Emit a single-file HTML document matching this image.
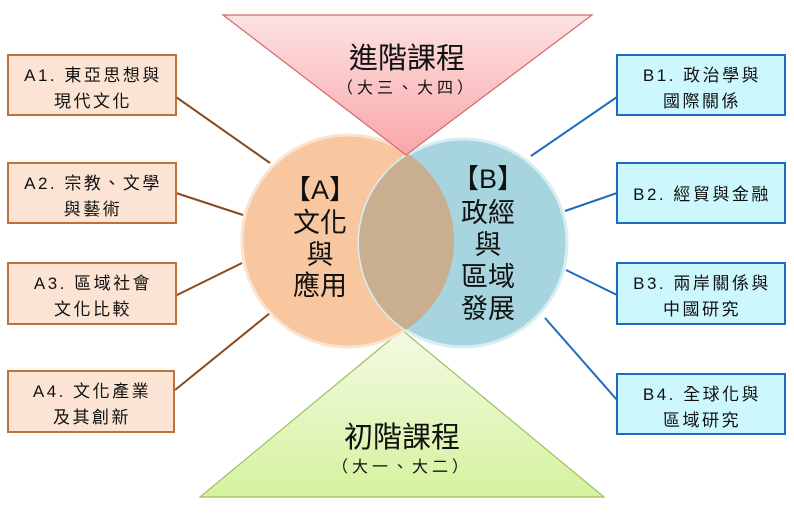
<!DOCTYPE html>
<html><head><meta charset="utf-8"><style>
body{margin:0;background:#fff;}
svg text{font-family:"Liberation Sans","Noto Sans CJK TC",sans-serif;fill:#111;}
</style></head><body>
<svg width="794" height="510" viewBox="0 0 794 510" xmlns="http://www.w3.org/2000/svg">
<defs>
<linearGradient id="tp" x1="0" y1="0" x2="0" y2="1"><stop offset="0" stop-color="#fde2e3"/><stop offset="1" stop-color="#f9a6a8"/></linearGradient>
<linearGradient id="bt" x1="0" y1="0" x2="0" y2="1"><stop offset="0" stop-color="#f3fbe3"/><stop offset="1" stop-color="#d5f29e"/></linearGradient>
</defs>
<polygon points="402,330 604,497 200,497" fill="url(#bt)" stroke="#9cbf5e" stroke-width="1.2"/>
<!-- connectors -->
<g stroke="#8a4a1c" stroke-width="2">
<line x1="176" y1="97" x2="270" y2="163"/>
<line x1="176" y1="193" x2="243" y2="215"/>
<line x1="175" y1="296" x2="242" y2="263"/>
<line x1="175" y1="390" x2="270" y2="313"/>
</g>
<g stroke="#1f6bbf" stroke-width="2">
<line x1="617" y1="97" x2="531" y2="156"/>
<line x1="617" y1="193" x2="565" y2="211"/>
<line x1="617" y1="295" x2="566" y2="270"/>
<line x1="617" y1="400" x2="545" y2="318"/>
</g>
<circle cx="348" cy="241" r="106" fill="#f8c7a0" stroke="#fbe3cf" stroke-width="3"/>
<circle cx="463" cy="243" r="104" fill="#a6d4df" stroke="#d6eef3" stroke-width="3"/>
<clipPath id="ca"><circle cx="348" cy="241" r="106"/></clipPath>
<circle cx="463" cy="243" r="104" fill="#c9ae90" clip-path="url(#ca)"/>
<polygon points="223,15 592,15 406,155" fill="url(#tp)" stroke="#d06a6c" stroke-width="1.2"/>
<!-- titles -->
<text x="407" y="68" font-size="29" text-anchor="middle">進階課程</text>
<text x="407" y="93" font-size="16" text-anchor="middle" letter-spacing="4">（大三、大四）</text>
<text x="402" y="447" font-size="29" text-anchor="middle">初階課程</text>
<text x="402" y="472" font-size="16" text-anchor="middle" letter-spacing="4">（大一、大二）</text>
<g font-size="27" text-anchor="middle">
<text x="320" y="199">【A】</text>
<text x="320" y="232">文化</text>
<text x="320" y="264">與</text>
<text x="320" y="295">應用</text>
<text x="488" y="188">【B】</text>
<text x="488" y="222">政經</text>
<text x="488" y="254">與</text>
<text x="488" y="286">區域</text>
<text x="488" y="318">發展</text>
</g>
<!-- left boxes -->
<g fill="#fbe4d3" stroke="#c0703a" stroke-width="2">
<rect x="8" y="55" width="168" height="60"/>
<rect x="8" y="163" width="168" height="60"/>
<rect x="8" y="263" width="168" height="61"/>
<rect x="8" y="371" width="166" height="61"/>
</g>
<g fill="#ccf7fc" stroke="#1f6bbf" stroke-width="2">
<rect x="617" y="55" width="168" height="60"/>
<rect x="617" y="163" width="168" height="60"/>
<rect x="617" y="263" width="168" height="61"/>
<rect x="617" y="374" width="168" height="60"/>
</g>
<g font-size="17" text-anchor="middle" letter-spacing="2.5">
<text x="93" y="81">A1. 東亞思想與</text>
<text x="93" y="107">現代文化</text>
<text x="93" y="189">A2. 宗教、文學</text>
<text x="93" y="215">與藝術</text>
<text x="93" y="289">A3. 區域社會</text>
<text x="93" y="315">文化比較</text>
<text x="92" y="397">A4. 文化產業</text>
<text x="92" y="423">及其創新</text>
<text x="702" y="81">B1. 政治學與</text>
<text x="702" y="107">國際關係</text>
<text x="702" y="200">B2. 經貿與金融</text>
<text x="702" y="289">B3. 兩岸關係與</text>
<text x="702" y="315">中國研究</text>
<text x="702" y="400">B4. 全球化與</text>
<text x="702" y="426">區域研究</text>
</g>
</svg>
</body></html>
